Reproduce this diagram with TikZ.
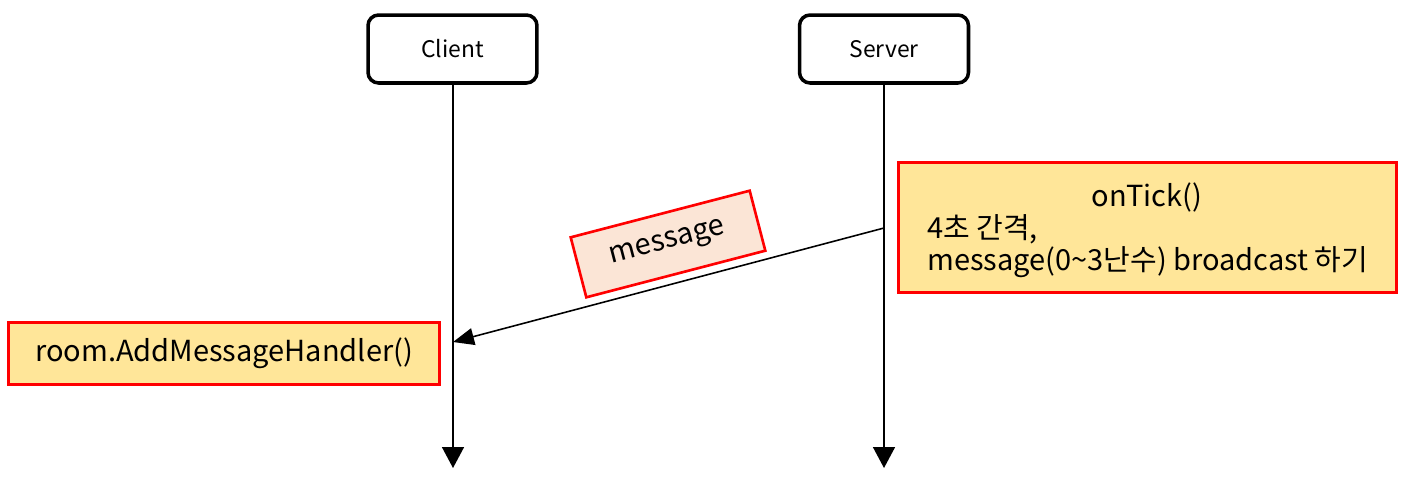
\documentclass[tikz,border=0pt]{standalone}
\usepackage{fontspec}
\setmainfont{Noto Sans CJK KR}
\usepackage{xcolor}
\usetikzlibrary{arrows.meta, positioning}
\definecolor{notayellow}{HTML}{FFE699}
\definecolor{msgpeach}{HTML}{FBE5D6}
\definecolor{borderred}{HTML}{FF0000}
\tikzset{
  every picture/.style={>=Triangle},
  actor/.style={draw=black, line width=2pt, rounded corners=6pt, fill=white,
              minimum width=3.38cm, minimum height=1.36cm, font=\fontsize{13}{15}\selectfont},
  nota/.style={draw=borderred, fill=notayellow, line width=1.5pt, inner sep=0pt},
  msglbl/.style={draw=borderred, fill=msgpeach, line width=1.5pt,
              minimum width=3.7cm, minimum height=1.24cm, font=\fontsize{16.5}{19}\selectfont},
  txt/.style={inner sep=0pt, font=\fontsize{16.5}{19}\selectfont},
  vida/.style={line width=0.9pt, -{Triangle[length=0.42cm, width=0.44cm]}},
  flecha/.style={line width=0.9pt, -{Triangle[length=0.42cm, width=0.34cm]}},
}
\begin{document}
\begin{tikzpicture}[x=0.02cm, y=-0.02cm]
  \useasboundingbox (0,0) rectangle (1406,481);
  % actors
  \node[actor] (client) at (452.5,49) {Client};
  \node[actor] (server) at (884,49) {Server};
  \coordinate (cliend) at (453,468);
  \coordinate (srvend) at (884,468);
  \draw[vida] (client.south -| cliend) -- (cliend);
  \draw[vida] (server) -- (srvend);
  % notes
  \node[nota, minimum width=9.96cm, minimum height=2.6cm] (tick) at (1147.5,227.5) {};
  \node[txt] (ticktit) at (1147,197) {onTick()};
  \node[txt, anchor=west] (tick1) at (927,229) {4초 간격,};
  \node[txt, anchor=west] (tick2) at (927,262) {message(0\textasciitilde3난수) broadcast 하기};
  \node[nota, minimum width=8.62cm, minimum height=1.24cm, font=\fontsize{16.5}{19}\selectfont] (handler) at (224,353.5) {room.AddMessageHandler()};
  % message
  \coordinate (srvmsg) at (884,228);
  \coordinate (climsg) at (453,342);
  \draw[flecha] (srvmsg) -- (climsg);
  \node[msglbl, rotate=14.6] (msg) at (668,244) {message};
\end{tikzpicture}
\end{document}
